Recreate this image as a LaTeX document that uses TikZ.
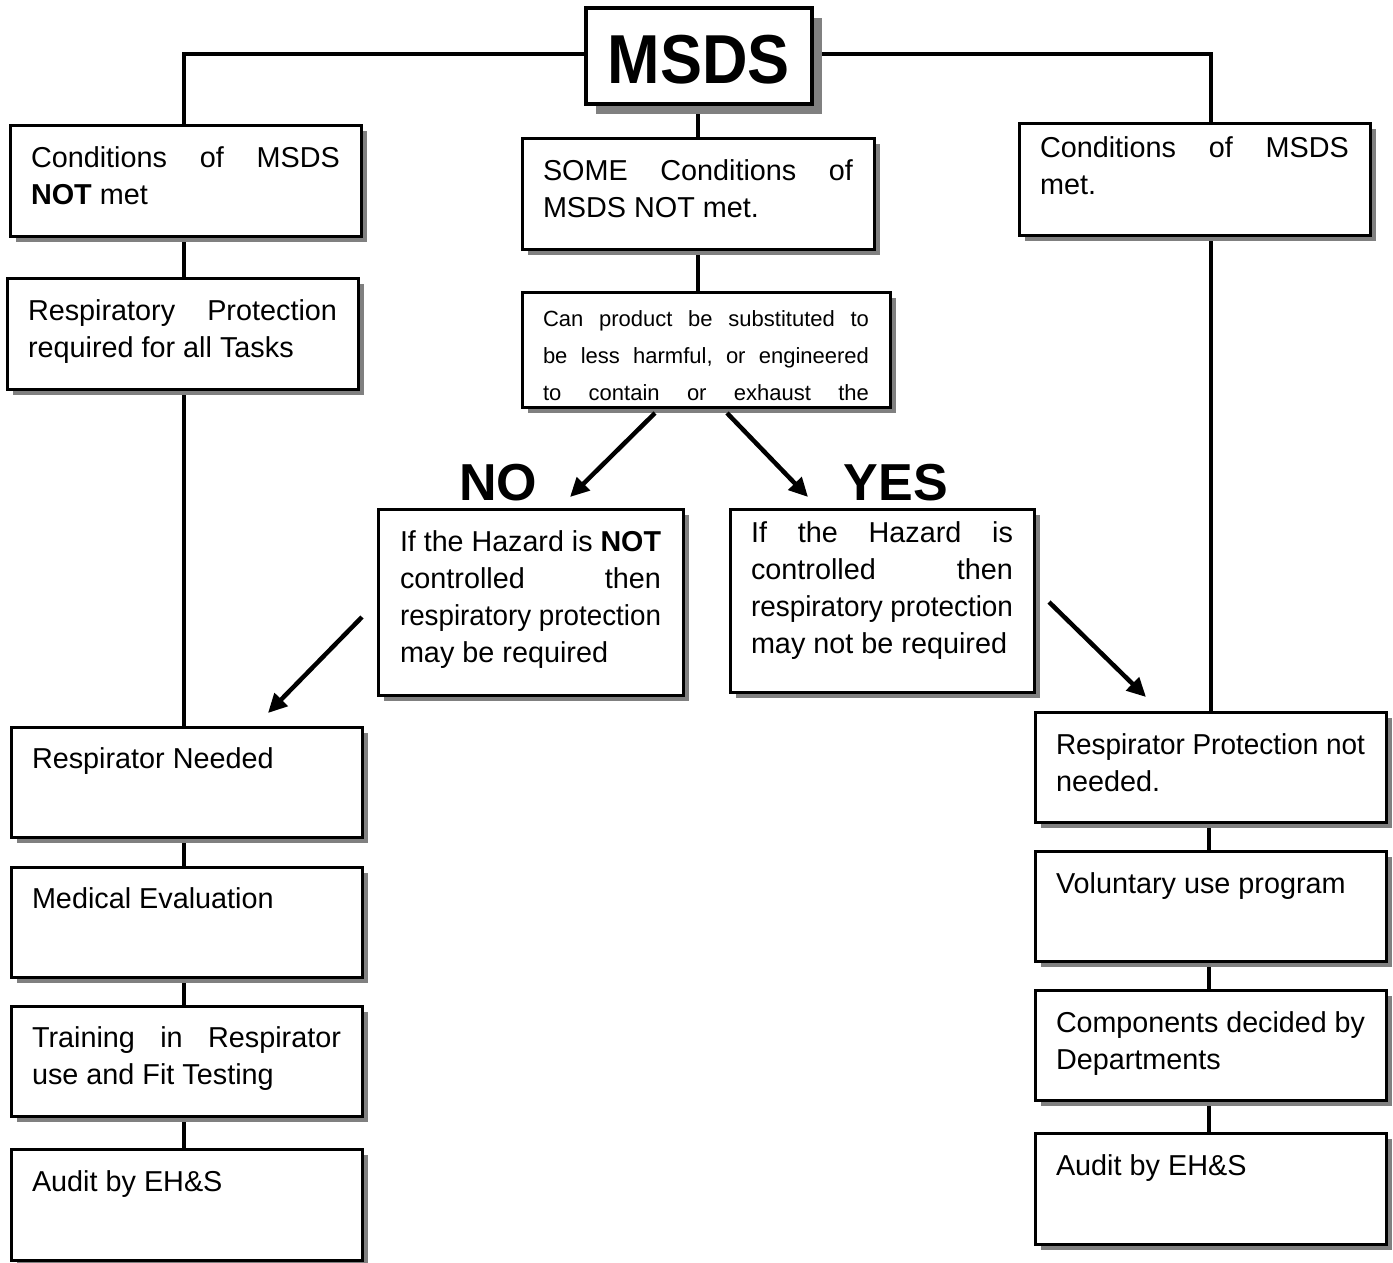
\documentclass[tikz,border=0pt]{standalone}
\usepackage{fontspec}
\usepackage{graphicx}
\setmainfont{Liberation Sans}
\usetikzlibrary{shadows,arrows.meta,backgrounds}
\newcommand{\bt}[4]{\parbox[t][#2pt][t]{#1pt}{\rule{0pt}{#3pt}#4}}
\newcommand{\fitl}[1]{\resizebox{\linewidth}{\height}{#1}}
\begin{document}
\begin{tikzpicture}[x=1pt,y=-1pt,
  boxbase/.style={draw, fill=white, outer sep=0pt, inner sep=0pt, anchor=north west},
  fbox/.style={boxbase, line width=3pt, inner xsep=21pt, font=\fontsize{28.8}{37}\selectfont,
    drop shadow={shadow xshift=6pt, shadow yshift=-6pt, fill=black!50, opacity=1}},
  msdsbox/.style={boxbase, line width=4.5pt, font=\fontsize{63}{70}\selectfont\bfseries,
    drop shadow={shadow xshift=10pt, shadow yshift=-10pt, fill=black!50, opacity=1}},
  conn/.style={line width=4.5pt},
  arr/.style={line width=4.5pt, -{Triangle[length=19pt,width=18pt]}},
  lab/.style={font=\fontsize{52}{60}\selectfont\bfseries, anchor=base, inner sep=0pt}]
\useasboundingbox (0,0) rectangle (1393,1262);

% boxes
\node[msdsbox] (msds) at (586,8) {\parbox[t][96pt][t]{226pt}{\centering\rule{0pt}{75pt}\scalebox{1}[1.1]{MSDS}}};

\node[fbox] (L1) at (10,125) {\bt{309}{111}{42}{Conditions\hfill of\hfill MSDS\\\textbf{NOT} met}};
\node[fbox] (L2) at (7,278) {\bt{309}{111}{42}{Respiratory\hfill Protection\\required for all Tasks}};
\node[fbox] (C1) at (522,138) {\bt{310}{111}{42}{SOME\hfill Conditions\hfill of\\MSDS NOT met.}};
\node[fbox, font=\fontsize{22}{37}\selectfont] (C2) at (522,292) {\bt{326}{115}{34}{Can\hfill product\hfill be\hfill substituted\hfill to\\be\hfill less\hfill harmful,\hfill or\hfill engineered\\to\hfill contain\hfill or\hfill exhaust\hfill the}};
\node[fbox] (R1) at (1019,123) {\bt{309}{112}{34}{Conditions\hfill of\hfill MSDS\\met.}};

\node[fbox, inner xsep=22pt] (NOB) at (378,509) {\bt{261}{186}{42}{\fitl{If the Hazard is \textbf{NOT}}\\controlled\hfill then\\\fitl{respiratory protection}\\may be required}};
\node[fbox] (YESB) at (730,509) {\bt{262}{183}{33}{If\hfill the\hfill Hazard\hfill is\\controlled\hfill then\\\fitl{respiratory protection}\\may not be required}};

\node[lab] (no) at (498,500) {NO};
\node[lab] (yes) at (896,500) {YES};

\node[fbox] (RN) at (11,727) {\bt{309}{110}{41}{Respirator Needed}};
\node[fbox] (ME) at (11,867) {\bt{309}{110}{41}{Medical Evaluation}};
\node[fbox] (TR) at (11,1006) {\bt{309}{110}{41}{Training\hfill in\hfill Respirator\\use and Fit Testing}};
\node[fbox] (LA) at (11,1149) {\bt{309}{111}{42}{Audit by EH\&S}};

\node[fbox] (RP) at (1035,712) {\bt{309}{110}{42}{\fitl{Respirator Protection not}\\needed.}};
\node[fbox] (VU) at (1035,851) {\bt{309}{110}{42}{Voluntary use program}};
\node[fbox] (CO) at (1035,990) {\bt{309}{110}{42}{\fitl{Components decided by}\\Departments}};
\node[fbox] (RA) at (1035,1133) {\bt{309}{111}{42}{Audit by EH\&S}};

% reference points for the connector columns
\coordinate (tl) at (184,54);
\coordinate (tr) at (1211,54);
\coordinate (cx) at (698,0);
\coordinate (rx) at (1209,0);

\begin{pgfonlayer}{background}
\draw[conn] (tl -| msds.west) -- (tl) -- (tl |- L1.north);
\draw[conn] (tr -| msds.east) -- (tr) -- (tr |- R1.north);
\draw[conn] (cx |- msds.south) -- (cx |- C1.north);
\draw[conn] (cx |- C1.south) -- (cx |- C2.north);
\draw[conn] (tl |- L1.south) -- (tl |- L2.north);
\draw[conn] (tl |- L2.south) -- (tl |- RN.north);
\draw[conn] (tl |- RN.south) -- (tl |- ME.north);
\draw[conn] (tl |- ME.south) -- (tl |- TR.north);
\draw[conn] (tl |- TR.south) -- (tl |- LA.north);
\draw[conn] (tr |- R1.south) -- (tr |- RP.north);
\draw[conn] (rx |- RP.south) -- (rx |- VU.north);
\draw[conn] (rx |- VU.south) -- (rx |- CO.north);
\draw[conn] (rx |- CO.south) -- (rx |- RA.north);
\end{pgfonlayer}

% arrows
\coordinate (a1s) at (655,413); \coordinate (a1e) at (570,497);
\coordinate (a2s) at (727,413); \coordinate (a2e) at (808,497);
\coordinate (a3s) at (362,617); \coordinate (a3e) at (268,713);
\coordinate (a4s) at (1049,602); \coordinate (a4e) at (1146,697);
\draw[arr] (a1s) -- (a1e);
\draw[arr] (a2s) -- (a2e);
\draw[arr] (a3s) -- (a3e);
\draw[arr] (a4s) -- (a4e);
\end{tikzpicture}
\end{document}
